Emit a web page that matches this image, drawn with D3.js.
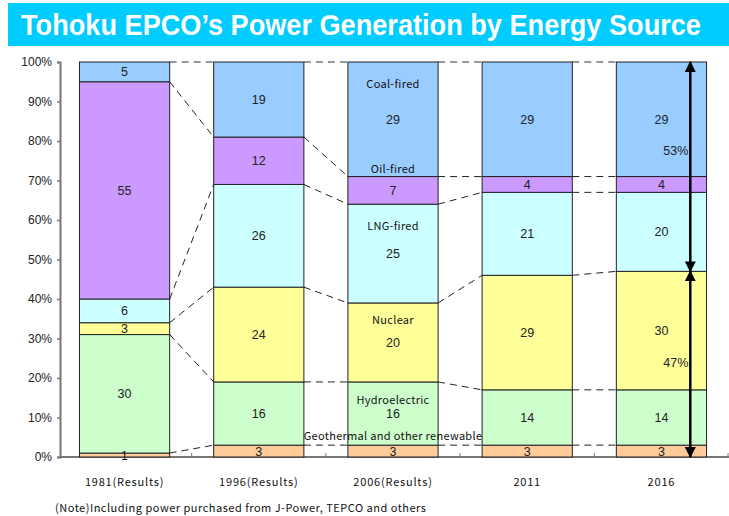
<!DOCTYPE html>
<html>

<head>
    <meta charset="UTF-8">
    <title>Tohoku EPCO</title>
    <script src="https://cdnjs.cloudflare.com/ajax/libs/d3/7.8.5/d3.min.js"></script>
    <style>
        body { margin: 0; background: #fff; }
        svg { display: block; }
    </style>
</head>

<body>

    <svg id="chart"></svg>

    <script>

        // data, bottom to top
        var years = ["1981(Results)", "1996(Results)", "2006(Results)", "2011", "2016"]
        var sources = ["Geothermal", "Hydro", "Nuclear", "LNG", "Oil", "Coal"]
        var geothermal = [1, 3, 3, 3, 3]
        var hydro = [30, 16, 16, 14, 14]
        var nuclear = [3, 24, 20, 29, 30]
        var lng = [6, 26, 25, 21, 20]
        var oil = [55, 12, 7, 4, 4]
        var coal = [5, 19, 29, 29, 29]
        var yTicks = [0, 10, 20, 30, 40, 50, 60, 70, 80, 90, 100]
        var colors = ["#ffcc99", "#ccffcc", "#ffff99", "#ccffff", "#cc99ff", "#99ccff"]

        // labels written inside the 2006 bar: [text, value position]
        var sourceLabels = [
            ["Coal-fired", 94.5],
            ["Oil-fired", 73],
            ["LNG-fired", 58.5],
            ["Nuclear", 34.7],
            ["Hydroelectric", 14.4],
            ["Geothermal and other renewable", 5.3]
        ]
        var shareUpper = 53, shareLower = 47

        var W = 729, H = 516

        var rows = years.map(function (yr, i) {
            var r = { year: yr }
            r.Geothermal = geothermal[i]
            r.Hydro = hydro[i]
            r.Nuclear = nuclear[i]
            r.LNG = lng[i]
            r.Oil = oil[i]
            r.Coal = coal[i]
            return r
        })

        var series = d3.stack().keys(sources)(rows)

        var svg = d3.select("#chart")
            .attr("width", W)
            .attr("height", H)

        // title banner
        svg.append("rect")
            .attr("x", 8).attr("y", 3)
            .attr("width", W - 8).attr("height", 43)
            .attr("fill", "#00ccff")

        // squeeze the title horizontally so it looks condensed
        var title = svg.append("text")
            .attr("x", 0).attr("y", 0)
            .attr("text-anchor", "middle")
            .attr("font-family", "'Liberation Sans', Arial, sans-serif")
            .attr("font-weight", "bold")
            .attr("font-size", 29)
            .attr("fill", "#fff")
            .text("Tohoku EPCO\u2019s Power Generation by Energy Source")
        var tw = title.node().getComputedTextLength()
        title.attr("transform", "translate(361,35) scale(" + (680 / tw) + ",1)")

        var x = d3.scaleBand()
            .domain(years)
            .range([58, 728])
            .paddingInner(0.328)
            .paddingOuter(0.16)

        var y = d3.scaleLinear()
            .domain([0, 100])
            .range([457, 62])

        var bw = x.bandwidth()
        var gapHalf = (x.step() - bw) / 2

        // dashed connectors between neighbouring bars
        var conn = []
        for (var i = 0; i < years.length - 1; i++) {
            series.forEach(function (s, k) {
                conn.push({
                    x1: x(years[i]) + bw, y1: y(s[i][1]),
                    x2: x(years[i + 1]), y2: y(s[i + 1][1]),
                    top: k === series.length - 1
                })
            })
        }

        svg.append("g")
            .selectAll("line")
            .data(conn)
            .enter().append("line")
            .attr("x1", function (d) { return d.x1 })
            .attr("y1", function (d) { return d.y1 })
            .attr("x2", function (d) { return d.x2 })
            .attr("y2", function (d) { return d.y2 })
            .attr("stroke", function (d) { return d.top ? "#777" : "#222" })
            .attr("stroke-width", function (d) { return d.top ? 1.5 : 1 })
            .attr("stroke-dasharray", "7,5")

        // y axis
        var yAxis = svg.append("g")
            .attr("transform", "translate(60,0)")
            .call(d3.axisLeft(y).tickValues(yTicks).tickFormat(function (d) { return d + "%" }).tickSize(3).tickPadding(5))
        yAxis.select(".domain").attr("stroke", "#777").attr("stroke-width", 2)
        yAxis.selectAll(".tick line").attr("stroke", "#777").attr("stroke-width", 1.5)
        yAxis.selectAll(".tick text")
            .attr("font-family", "'Liberation Sans', Arial, sans-serif")
            .attr("font-size", 12)
            .attr("fill", "#222")

        // x axis baseline with ticks between categories
        svg.append("line")
            .attr("x1", 60).attr("x2", W)
            .attr("y1", y(0)).attr("y2", y(0))
            .attr("stroke", "#777").attr("stroke-width", 2)

        svg.append("g")
            .selectAll("line")
            .data(years.slice(1))
            .enter().append("line")
            .attr("x1", function (d) { return x(d) - gapHalf })
            .attr("x2", function (d) { return x(d) - gapHalf })
            .attr("y1", y(0)).attr("y2", y(0) - 4)
            .attr("stroke", "#777")

        svg.append("line")
            .attr("x1", W - 1).attr("x2", W - 1)
            .attr("y1", y(0)).attr("y2", y(0) - 4)
            .attr("stroke", "#777")

        // stacked bars
        var layer = svg.append("g")
            .selectAll("g")
            .data(series)
            .enter().append("g")
            .attr("fill", function (d, i) { return colors[i] })

        layer.selectAll("rect")
            .data(function (d) { return d })
            .enter().append("rect")
            .attr("x", function (d) { return x(d.data.year) })
            .attr("y", function (d) { return y(d[1]) })
            .attr("width", bw)
            .attr("height", function (d) { return y(d[0]) - y(d[1]) })
            .attr("stroke", "#222")
            .attr("stroke-width", 1)

        // values inside segments
        var vals = []
        series.forEach(function (s) {
            s.forEach(function (d) {
                vals.push({ year: d.data.year, v: d[1] - d[0], mid: (d[0] + d[1]) / 2 })
            })
        })

        svg.append("g")
            .selectAll("text")
            .data(vals)
            .enter().append("text")
            .attr("x", function (d) { return x(d.year) + bw / 2 })
            .attr("y", function (d) { return y(d.mid) })
            .attr("dy", "0.36em")
            .attr("text-anchor", "middle")
            .attr("font-family", "'Liberation Sans', Arial, sans-serif")
            .attr("font-size", 12.5)
            .attr("fill", "#222")
            .text(function (d) { return d.v })

        // source names in the 2006 bar
        svg.append("g")
            .selectAll("text")
            .data(sourceLabels)
            .enter().append("text")
            .attr("x", x(years[2]) + bw / 2)
            .attr("y", function (d) { return y(d[1]) })
            .attr("dy", "0.36em")
            .attr("text-anchor", "middle")
            .attr("font-family", "'Noto Sans CJK JP', 'DejaVu Sans', sans-serif")
            .attr("font-size", 11)
            .attr("letter-spacing", 0.3)
            .attr("fill", "#111")
            .text(function (d) { return d[0] })

        // x labels
        svg.append("g")
            .selectAll("text")
            .data(years)
            .enter().append("text")
            .attr("x", function (d) { return x(d) + bw / 2 })
            .attr("y", 486)
            .attr("text-anchor", "middle")
            .attr("font-family", "'Noto Sans CJK JP', 'DejaVu Sans', sans-serif")
            .attr("font-size", 11)
            .attr("letter-spacing", 0.8)
            .attr("fill", "#111")
            .text(function (d) { return d })

        svg.append("text")
            .attr("x", 55).attr("y", 512)
            .attr("font-family", "'Noto Sans CJK JP', 'DejaVu Sans', sans-serif")
            .attr("font-size", 11)
            .attr("letter-spacing", 0.5)
            .attr("fill", "#111")
            .text("(Note)Including power purchased from J-Power, TEPCO and others")

        // double arrows on the 2016 bar
        var defs = svg.append("defs")
        defs.append("marker")
            .attr("id", "head")
            .attr("viewBox", "0 0 10 10")
            .attr("refX", 9).attr("refY", 5)
            .attr("markerWidth", 11).attr("markerHeight", 11)
            .attr("markerUnits", "userSpaceOnUse")
            .attr("orient", "auto-start-reverse")
            .append("path")
            .attr("d", "M0,0L10,5L0,10Z")
            .attr("fill", "#000")

        var ax = x(years[4]) + bw * 0.82
        var arrows = [[shareLower, 100], [0, shareLower]]
        svg.append("g")
            .selectAll("line")
            .data(arrows)
            .enter().append("line")
            .attr("x1", ax).attr("x2", ax)
            .attr("y1", function (d) { return y(d[0]) })
            .attr("y2", function (d) { return y(d[1]) })
            .attr("stroke", "#000")
            .attr("stroke-width", 2.5)
            .attr("marker-start", "url(#head)")
            .attr("marker-end", "url(#head)")

        var shares = [[shareUpper, 77.5], [shareLower, 24]]
        svg.append("g")
            .selectAll("text")
            .data(shares)
            .enter().append("text")
            .attr("x", ax - 2)
            .attr("y", function (d) { return y(d[1]) })
            .attr("dy", "0.36em")
            .attr("text-anchor", "end")
            .attr("font-family", "'Liberation Sans', Arial, sans-serif")
            .attr("font-size", 12.5)
            .attr("fill", "#222")
            .text(function (d) { return d[0] + "%" })

    </script>

</body>

</html>
